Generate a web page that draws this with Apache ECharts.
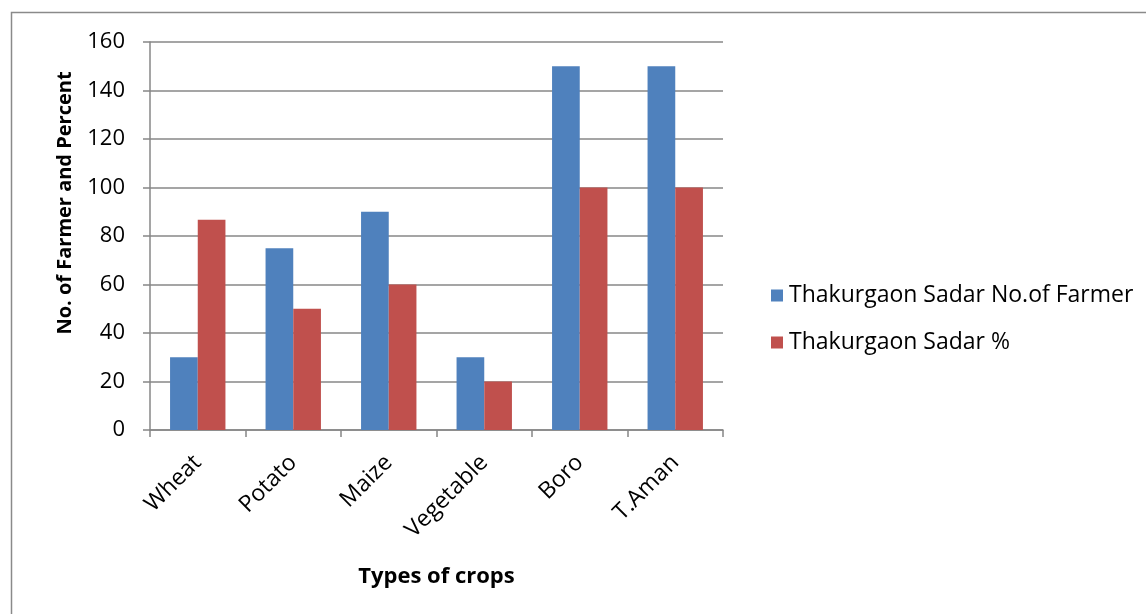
<!DOCTYPE html>
<html>
<head>
<meta charset="utf-8">
<script src="https://cdn.jsdelivr.net/npm/echarts@6/dist/echarts.min.js"></script>
<style>
  html, body { margin: 0; padding: 0; background: #fff; }
  #chart { width: 1146px; height: 614px; }
</style>
</head>
<body>
<div id="chart"></div>
<script>
// Crop survey: farmers growing each crop in Thakurgaon Sadar
const crops = ['Wheat', 'Potato', 'Maize', 'Vegetable', 'Boro', 'T.Aman'];
const farmerCounts = [30, 75, 90, 30, 150, 150];
const farmerPercent = [86.7, 50, 60, 20, 100, 100];
const seriesNames = ['Thakurgaon Sadar No.of Farmer', 'Thakurgaon Sadar %'];
const yTicks = { min: 0, max: 160, interval: 20 };

const FONT = '"Open Sans", "Liberation Sans", sans-serif';
const GRID_GREY = '#878787';

const chart = echarts.init(document.getElementById('chart'), null, { renderer: 'canvas' });

chart.setOption({
  animation: false,
  backgroundColor: '#ffffff',
  textStyle: { fontFamily: FONT, color: '#000' },
  graphic: [{
    type: 'rect',
    shape: { x: 11.5, y: 12.5, width: 1300, height: 800 },
    style: { fill: 'none', stroke: '#8a8a8a', lineWidth: 1.5 },
    silent: true
  }],
  grid: { left: 150, right: 423, top: 42, bottom: 184, containLabel: false },
  legend: {
    orient: 'vertical',
    left: 766,
    top: 279,
    itemWidth: 12,
    itemHeight: 12,
    itemGap: 24,
    icon: 'rect',
    textStyle: { fontFamily: FONT, fontSize: 23, color: '#000', padding: [0, 0, 0, 1] },
    data: seriesNames
  },
  xAxis: {
    type: 'category',
    data: crops,
    name: 'Types of crops',
    nameLocation: 'middle',
    nameGap: 136,
    nameTextStyle: { fontFamily: FONT, fontSize: 22, fontWeight: 'bold', color: '#000' },
    axisLine: { lineStyle: { color: GRID_GREY, width: 1.5 } },
    axisTick: { show: true, length: 7, lineStyle: { color: GRID_GREY, width: 1.5 } },
    axisLabel: { rotate: 45, margin: 29, fontFamily: FONT, fontSize: 23, color: '#000' },
    splitLine: { show: false }
  },
  yAxis: {
    type: 'value',
    min: yTicks.min,
    max: yTicks.max,
    interval: yTicks.interval,
    name: 'No. of Farmer and Percent',
    nameLocation: 'middle',
    nameGap: 75,
    nameRotate: 90,
    nameTextStyle: {
      fontFamily: FONT, fontSize: 20, fontWeight: 'bold', color: '#000',
      padding: [0, 0, 0, 66]
    },
    axisLine: { show: true, lineStyle: { color: GRID_GREY, width: 1.5 } },
    axisTick: { show: true, length: 7, lineStyle: { color: GRID_GREY, width: 1.5 } },
    axisLabel: { margin: 25, fontFamily: FONT, fontSize: 22, color: '#000' },
    splitLine: { show: true, lineStyle: { color: GRID_GREY, width: 1.5 } }
  },
  series: [
    {
      name: seriesNames[0],
      type: 'bar',
      data: farmerCounts,
      barGap: '0%',
      barCategoryGap: '42%',
      itemStyle: { color: '#4F81BD' }
    },
    {
      name: seriesNames[1],
      type: 'bar',
      data: farmerPercent,
      itemStyle: { color: '#C0504D' }
    }
  ]
});
</script>
</body>
</html>
